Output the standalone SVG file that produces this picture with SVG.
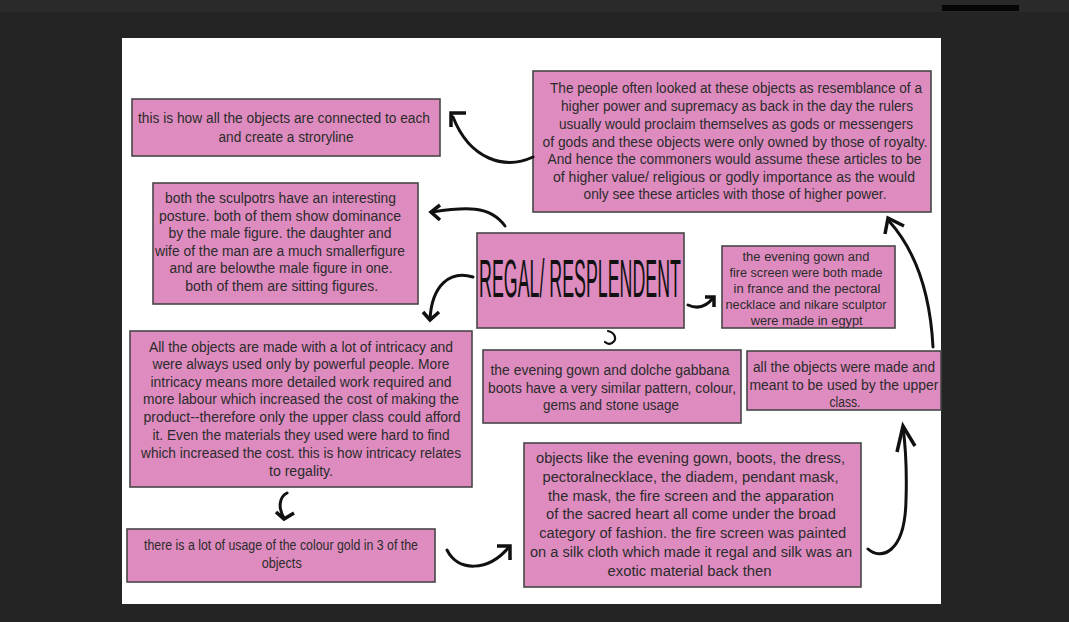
<svg xmlns="http://www.w3.org/2000/svg" width="1069" height="622" viewBox="0 0 1069 622">
<style>
.box{fill:#de8bbf;stroke:#474747;stroke-width:1.6}
.t{font-family:"Liberation Sans",Arial,sans-serif;font-size:14px;fill:#2b2b2b;text-anchor:middle}
.s{font-size:12px}
.title{font-family:"Liberation Sans",Arial,sans-serif;font-size:53px;fill:#111;text-anchor:middle}
.arr{fill:none;stroke:#111;stroke-width:3;stroke-linecap:round;stroke-linejoin:round}
.head{fill:none;stroke:#111;stroke-width:3.5;stroke-linecap:butt;stroke-linejoin:miter}
</style>
<rect x="0" y="0" width="1069" height="622" fill="#242424"/>
<rect x="0" y="0" width="1069" height="12" fill="#2a2a2a"/>
<rect x="942" y="5" width="77" height="6" fill="#050505"/>
<rect x="122" y="38" width="819" height="566" fill="#ffffff"/>

<g id="node-storyline">
<rect class="box" x="132" y="99" width="308" height="57"/>
<text class="t" x="284" y="123" textLength="292" lengthAdjust="spacingAndGlyphs">this is how all the objects are connected to each</text>
<text class="t" x="286" y="142" textLength="135" lengthAdjust="spacingAndGlyphs">and create a stroryline</text>
</g>

<g id="node-power">
<rect class="box" x="533" y="71" width="398" height="141"/>
<text class="t" x="736" y="93" textLength="372" lengthAdjust="spacingAndGlyphs">The people often looked at these objects as resemblance of a</text>
<text class="t" x="737" y="111" textLength="352" lengthAdjust="spacingAndGlyphs">higher power and supremacy as back in the day the rulers</text>
<text class="t" x="736" y="129" textLength="354" lengthAdjust="spacingAndGlyphs">usually would proclaim themselves as gods or messengers</text>
<text class="t" x="735" y="147" textLength="385" lengthAdjust="spacingAndGlyphs">of gods and these objects were only owned by those of royalty.</text>
<text class="t" x="734.5" y="164" textLength="374" lengthAdjust="spacingAndGlyphs">And hence the commoners would assume these articles to be</text>
<text class="t" x="734" y="182" textLength="362" lengthAdjust="spacingAndGlyphs">of higher value/ religious or godly importance as the would</text>
<text class="t" x="735" y="199" textLength="303" lengthAdjust="spacingAndGlyphs">only see these articles with those of higher power.</text>
</g>

<g id="node-sculptors">
<rect class="box" x="153" y="183" width="265" height="121"/>
<text class="t" x="280.5" y="203" textLength="231" lengthAdjust="spacingAndGlyphs">both the sculpotrs have an interesting</text>
<text class="t" x="280" y="221" textLength="242" lengthAdjust="spacingAndGlyphs">posture. both of them show dominance</text>
<text class="t" x="280" y="238" textLength="223" lengthAdjust="spacingAndGlyphs">by the male figure. the daughter and</text>
<text class="t" x="280" y="256" textLength="250" lengthAdjust="spacingAndGlyphs">wife of the man are a much smallerfigure</text>
<text class="t" x="281" y="273" textLength="223" lengthAdjust="spacingAndGlyphs">and are belowthe male figure in one.</text>
<text class="t" x="281.7" y="291" textLength="193" lengthAdjust="spacingAndGlyphs">both of them are sitting figures.</text>
</g>

<g id="node-regal">
<rect class="box" x="477" y="233" width="207" height="95"/>
<text class="title" transform="translate(580,297) scale(0.336,1)" x="0" y="0">REGAL/ RESPLENDENT</text>
</g>

<g id="node-france">
<rect class="box" x="722" y="246" width="173" height="82"/>
<text class="t s" x="806" y="261" textLength="127" lengthAdjust="spacingAndGlyphs">the evening gown and</text>
<text class="t s" x="806" y="277" textLength="153" lengthAdjust="spacingAndGlyphs">fire screen were both made</text>
<text class="t s" x="807" y="293" textLength="147" lengthAdjust="spacingAndGlyphs">in  france and the pectoral</text>
<text class="t s" x="806" y="309" textLength="161" lengthAdjust="spacingAndGlyphs">necklace and nikare sculptor</text>
<text class="t s" x="806.7" y="325" textLength="112" lengthAdjust="spacingAndGlyphs">were made in egypt</text>
</g>

<g id="node-dolche">
<rect class="box" x="483" y="350" width="258" height="73"/>
<text class="t" x="610" y="375" textLength="239" lengthAdjust="spacingAndGlyphs">the evening gown and dolche gabbana</text>
<text class="t" x="612" y="393" textLength="248" lengthAdjust="spacingAndGlyphs">boots have a very similar pattern, colour,</text>
<text class="t" x="611" y="410" textLength="136" lengthAdjust="spacingAndGlyphs">gems and stone usage</text>
</g>

<g id="node-upperclass">
<rect class="box" x="747" y="351" width="194" height="59"/>
<text class="t" x="844" y="372" textLength="182" lengthAdjust="spacingAndGlyphs">all the objects were made and</text>
<text class="t" x="844" y="390" textLength="189" lengthAdjust="spacingAndGlyphs">meant to be used by the upper</text>
<text class="t" x="845" y="407" textLength="31" lengthAdjust="spacingAndGlyphs">class.</text>
</g>

<g id="node-intricacy">
<rect class="box" x="130" y="331" width="342" height="156"/>
<text class="t" x="301" y="352" textLength="304" lengthAdjust="spacingAndGlyphs">All the objects are made with a lot of intricacy and</text>
<text class="t" x="301" y="369" textLength="297" lengthAdjust="spacingAndGlyphs">were always used only by powerful people. More</text>
<text class="t" x="301" y="387" textLength="301" lengthAdjust="spacingAndGlyphs">intricacy means more detailed work required and</text>
<text class="t" x="301" y="404" textLength="316" lengthAdjust="spacingAndGlyphs">more labour which increased the cost of making the</text>
<text class="t" x="302" y="422" textLength="317" lengthAdjust="spacingAndGlyphs">product--therefore only the upper class could afford</text>
<text class="t" x="301" y="440" textLength="297" lengthAdjust="spacingAndGlyphs">it. Even the materials they used were hard to find</text>
<text class="t" x="301" y="458" textLength="320" lengthAdjust="spacingAndGlyphs">which increased the cost. this is how intricacy relates</text>
<text class="t" x="301" y="476" textLength="64" lengthAdjust="spacingAndGlyphs">to regality.</text>
</g>

<g id="node-gold">
<rect class="box" x="127" y="529" width="308" height="53"/>
<text class="t" x="281" y="550" textLength="274" lengthAdjust="spacingAndGlyphs">there is a lot of usage of the colour gold in 3 of the</text>
<text class="t" x="281.7" y="568" textLength="40" lengthAdjust="spacingAndGlyphs">objects</text>
</g>

<g id="node-fashion">
<rect class="box" x="524" y="443" width="337" height="144"/>
<text class="t" x="690.5" y="463" textLength="309" lengthAdjust="spacingAndGlyphs">objects like the evening gown, boots, the dress,</text>
<text class="t" x="690.5" y="482" textLength="296" lengthAdjust="spacingAndGlyphs">pectoralnecklace, the diadem, pendant mask,</text>
<text class="t" x="691" y="501" textLength="286" lengthAdjust="spacingAndGlyphs">the mask, the fire screen and the apparation</text>
<text class="t" x="691" y="519" textLength="290" lengthAdjust="spacingAndGlyphs">of the sacred heart all come under the broad</text>
<text class="t" x="692.7" y="538" textLength="307" lengthAdjust="spacingAndGlyphs">category of fashion. the fire screen was painted</text>
<text class="t" x="691" y="557" textLength="322" lengthAdjust="spacingAndGlyphs">on a silk cloth which made it regal and silk was an</text>
<text class="t" x="689.5" y="576" textLength="164" lengthAdjust="spacingAndGlyphs">exotic material back then</text>
</g>

<g id="connectors">
<path class="arr" d="M533,157 C505,170 470,160 453,117"/>
<path class="head" d="M466,113 L451,113 L451,127"/>
<path class="arr" d="M505,226 C490,205 465,207 432,212"/>
<path class="head" d="M440,205 L431,212 L440,220"/>
<path class="arr" d="M473,277 C450,270 432,285 430,319"/>
<path class="head" d="M423,312 L430,320 L439,312"/>
<path class="arr" d="M608,331 C616,333 617,340 612,343 C610,344 607,344 605,342" style="stroke-width:2.2"/>
<path class="arr" d="M688,305 C697,309 706,307 713,298"/>
<path class="head" d="M705,297 L714,297 L714,307"/>
<path class="arr" d="M933,347 C930,290 915,250 889,221"/>
<path class="head" d="M904,226 L888,218 L885,234"/>
<path class="arr" d="M287,493 C279,497 278,508 284,518"/>
<path class="head" d="M276,512 L284,519 L294,513"/>
<path class="arr" d="M447,550 C458,572 488,572 509,547"/>
<path class="head" d="M497,546 L510,546 L510,560"/>
<path class="arr" d="M868,549 C880,560 905,555 906,500 C907,470 906,450 903,427"/>
<path class="head" d="M897,452 L903,426 L915,446"/>
</g>
</svg>
